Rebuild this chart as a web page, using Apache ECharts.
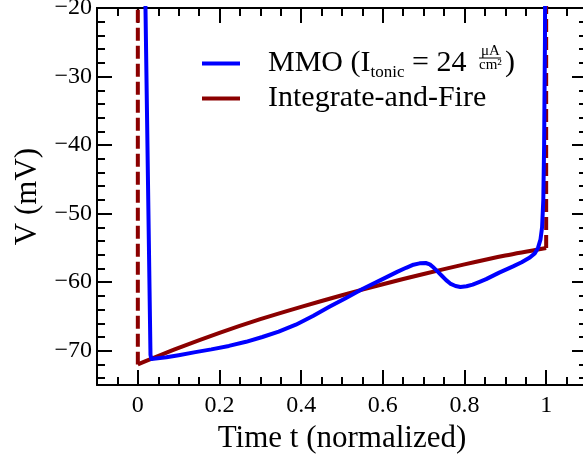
<!DOCTYPE html>
<html>
<head>
<meta charset="utf-8">
<script src="https://cdn.jsdelivr.net/npm/echarts@6/dist/echarts.min.js"></script>
<style>
  html, body { margin: 0; padding: 0; background: #fff; }
  #chart { width: 583px; height: 464px; }
</style>
</head>
<body>
<div id="chart"></div>
<script>
// tick values
const xMajor = [0, 0.2, 0.4, 0.6, 0.8, 1]
const xMinor = [-0.05, 0.05, 0.1, 0.15, 0.25, 0.3, 0.35, 0.45, 0.5, 0.55, 0.65, 0.7, 0.75, 0.85, 0.9, 0.95, 1.05]
const yMajor = [-70, -60, -50, -40, -30, -20]
const yMinor = [-74, -72, -68, -66, -64, -62, -58, -56, -54, -52, -48, -46, -44, -42, -38, -36, -34, -32, -28, -26, -24, -22]

// Integrate-and-Fire: sub-threshold curve + reset lines
const ifCurve = [
  [0, -72], [0.1, -69.6], [0.2, -67.4], [0.3, -65.4], [0.4, -63.6], [0.5, -61.9],
  [0.6, -60.3], [0.7, -58.8], [0.8, -57.4], [0.9, -56.1], [1, -55]
]
const ifResetStart = [[0, -15], [0, -72]]
const ifResetEnd = [[1, -55], [1, -15]]

// MMO trace (I_tonic = 24)
const mmo = [
  [0.0175, -15], [0.031, -70.6], [0.033, -71.2], [0.035, -71.3], [0.07, -70.95], [0.1, -70.65],
  [0.141, -70.2], [0.18, -69.8], [0.223, -69.3], [0.265, -68.7], [0.305, -68.0], [0.345, -67.2],
  [0.387, -66.2], [0.43, -64.9], [0.469, -63.6], [0.51, -62.3], [0.55, -61.0], [0.608, -59.3],
  [0.635, -58.5], [0.657, -57.9], [0.675, -57.45], [0.69, -57.25], [0.705, -57.2], [0.715, -57.4],
  [0.725, -57.9], [0.735, -58.5], [0.745, -59.1], [0.755, -59.7], [0.765, -60.2], [0.778, -60.55],
  [0.79, -60.7], [0.805, -60.6], [0.82, -60.35], [0.837, -59.95], [0.853, -59.55], [0.885, -58.6],
  [0.919, -57.7], [0.94, -57.1], [0.96, -56.4], [0.972, -55.8], [0.98, -55.0], [0.986, -53.8],
  [0.99, -52.0], [0.993, -48], [0.995, -40], [0.997, -25], [0.998, -10]
]

const FONT = 'Liberation Serif'
const RED = '#8b0000'
const BLUE = '#0000ff'

const chart = echarts.init(document.getElementById('chart'))

function xAxisOf (position, values, len, main) {
  return {
    type: 'value',
    position: position,
    min: -0.1,
    max: 1.1,
    name: main ? 'Time t (normalized)' : '',
    nameLocation: 'middle',
    nameGap: 37,
    nameTextStyle: { fontFamily: FONT, fontSize: 31, color: '#000' },
    axisLine: { show: !!main || position === 'top', onZero: false, lineStyle: { color: '#000', width: 2 } },
    axisTick: { show: true, inside: true, length: len, customValues: values, lineStyle: { color: '#000', width: 2 } },
    axisLabel: {
      show: !!main && position === 'bottom',
      customValues: values,
      margin: 9,
      fontFamily: FONT,
      fontSize: 24,
      color: '#000',
      formatter: v => String(v)
    },
    splitLine: { show: false }
  }
}

function yAxisOf (position, values, len, main) {
  return {
    type: 'value',
    position: position,
    min: -75,
    max: -20,
    name: main ? 'V (mV)' : '',
    nameLocation: 'middle',
    nameRotate: 90,
    nameGap: 47,
    nameTextStyle: { fontFamily: FONT, fontSize: 31, color: '#000' },
    axisLine: { show: !!main || position === 'right', onZero: false, lineStyle: { color: '#000', width: 2 } },
    axisTick: { show: true, inside: true, length: len, customValues: values, lineStyle: { color: '#000', width: 2 } },
    axisLabel: {
      show: !!main && position === 'left',
      customValues: values,
      margin: 5,
      fontFamily: FONT,
      fontSize: 24,
      color: '#000',
      formatter: v => String(v).replace('-', '\u2212')
    },
    splitLine: { show: false }
  }
}

const option = {
  animation: false,
  backgroundColor: '#fff',
  grid: { left: 97, top: 8, width: 490, height: 377, outerBoundsMode: 'none' },
  xAxis: [
    xAxisOf('bottom', xMajor, 15, true),
    xAxisOf('bottom', xMinor, 8, false),
    xAxisOf('top', xMajor, 15, false),
    xAxisOf('top', xMinor, 8, false)
  ],
  yAxis: [
    yAxisOf('left', yMajor, 15, true),
    yAxisOf('left', yMinor, 8, false),
    yAxisOf('right', yMajor, 15, false),
    yAxisOf('right', yMinor, 8, false)
  ],
  legend: {
    data: ['MMO', 'Integrate-and-Fire'],
    orient: 'vertical',
    left: 197,
    top: 41,
    itemGap: 0,
    icon: 'rect',
    itemWidth: 38,
    itemHeight: 4,
    textStyle: {
      fontFamily: FONT,
      fontSize: 30,
      lineHeight: 35,
      color: '#000',
      rich: {
        sp: { width: 23 },
        sub: { fontFamily: FONT, fontSize: 17, lineHeight: 14, verticalAlign: 'bottom', color: '#000' },
        fr: { width: 31 }
      }
    },
    formatter: function (name) {
      if (name === 'MMO') return '{sp|}MMO (I{sub|tonic} = 24 {fr|})'
      return '{sp|}' + name
    }
  },
  graphic: [
    { type: 'text', left: 481, top: 44, style: { text: '\u03bcA', font: '15px "Liberation Serif"', fill: '#000' } },
    { type: 'line', shape: { x1: 479, y1: 58, x2: 501, y2: 58 }, style: { stroke: '#000', lineWidth: 1 } },
    { type: 'text', left: 479, top: 58, style: { text: 'cm\u00b2', font: '15px "Liberation Serif"', fill: '#000' } }
  ],
  series: [
    {
      name: 'Integrate-and-Fire',
      type: 'line',
      data: ifCurve,
      smooth: 0.3,
      showSymbol: false,
      lineStyle: { color: RED, width: 4 },
      itemStyle: { color: RED },
      z: 2
    },
    {
      name: 'Integrate-and-Fire',
      type: 'line',
      data: ifResetStart,
      showSymbol: false,
      lineStyle: { color: RED, width: 4, type: [13, 5] },
      itemStyle: { color: RED },
      z: 2
    },
    {
      name: 'Integrate-and-Fire',
      type: 'line',
      data: ifResetEnd,
      showSymbol: false,
      lineStyle: { color: RED, width: 4, type: [13, 5] },
      itemStyle: { color: RED },
      z: 2
    },
    {
      name: 'MMO',
      type: 'line',
      data: mmo,
      showSymbol: false,
      lineStyle: { color: BLUE, width: 4, join: 'round' },
      itemStyle: { color: BLUE },
      z: 3
    }
  ]
}

chart.setOption(option)
</script>
</body>
</html>
